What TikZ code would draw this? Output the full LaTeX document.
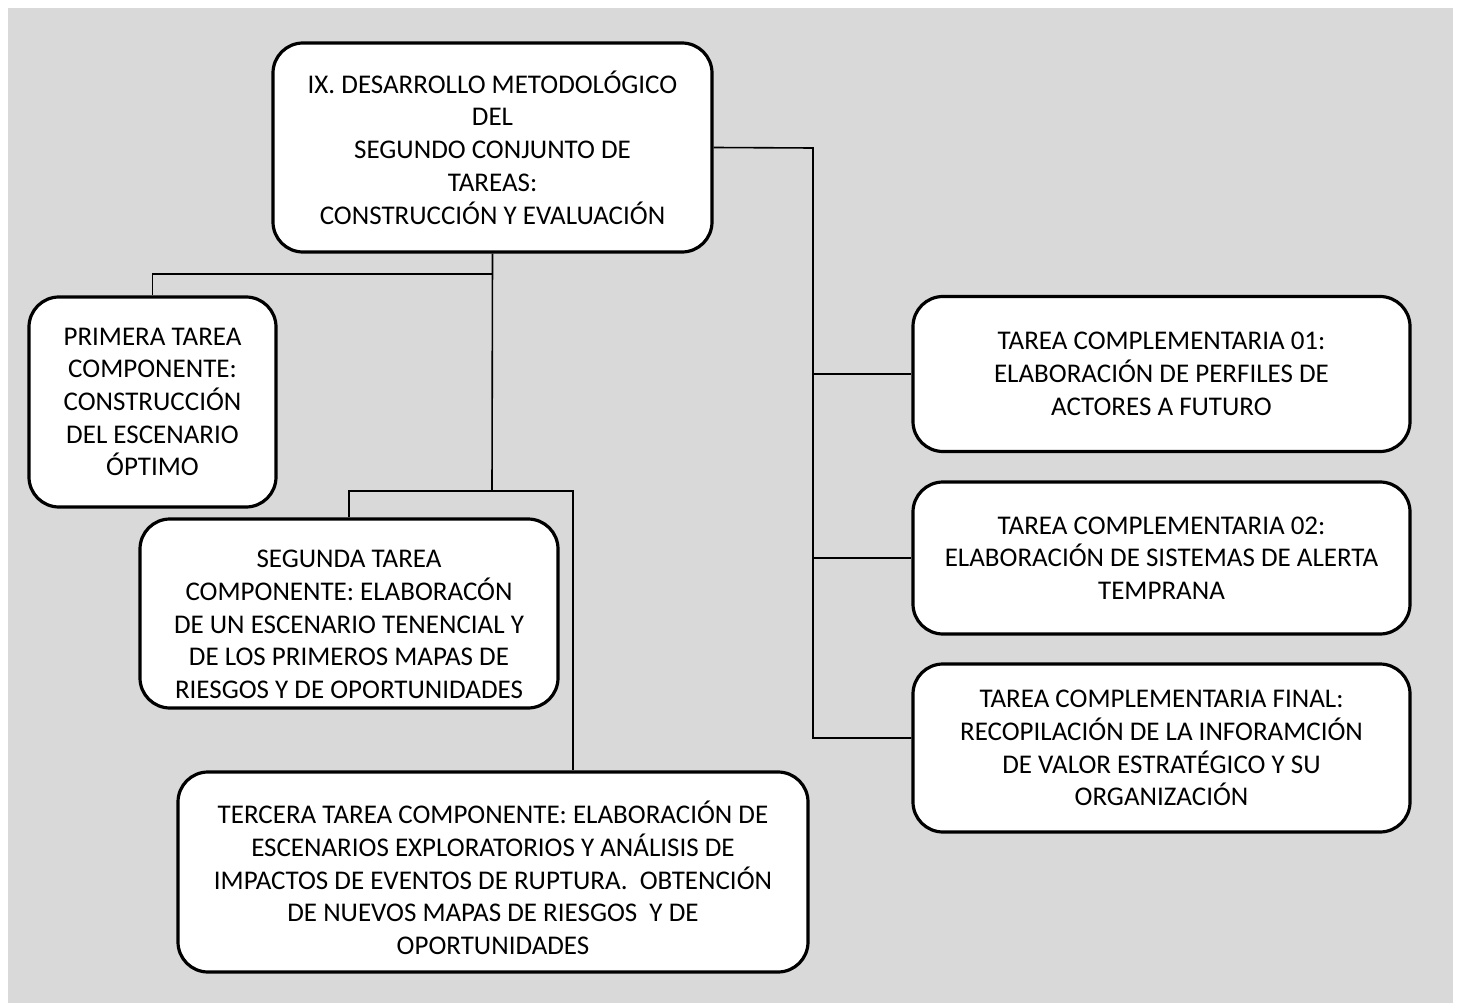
\documentclass[tikz,border=0pt]{standalone}
\usepackage{fontspec}
\setmainfont{Carlito}
\definecolor{bggray}{HTML}{D9D9D9}
\begin{document}
\begin{tikzpicture}[x=1pt,y=-1pt,
  box/.style={draw=black, line width=3.2pt, fill=white, rounded corners=30pt,
    align=center, inner sep=0pt, font=\fontsize{27}{32.7}\selectfont},
  txt/.style={align=center, inner sep=0pt, font=\fontsize{27}{32.7}\selectfont},
  link/.style={draw=black, line width=1.6pt}]
\useasboundingbox (0,0) rectangle (1460,1003);
\fill[bggray] (8,8) rectangle (1453,1003);

\node[box, minimum width=439pt, minimum height=209pt] (main) at (492.5,147.5)
  {IX. DESARROLLO METODOLÓGICO\\DEL\\SEGUNDO CONJUNTO DE\\TAREAS:\\CONSTRUCCIÓN Y EVALUACIÓN};
\node[box, minimum width=247pt, minimum height=210pt] (prim) at (152.5,402)
  {PRIMERA TAREA\\COMPONENTE:\\CONSTRUCCIÓN\\DEL ESCENARIO\\ÓPTIMO};
\node[box, minimum width=418pt, minimum height=189pt] (seg) at (349,613.5) {};
\node[txt] (segt) at ([yshift=-11pt]seg.center)
  {SEGUNDA TAREA\\COMPONENTE: ELABORACÓN\\DE UN ESCENARIO TENENCIAL Y\\DE LOS PRIMEROS MAPAS DE\\RIESGOS Y DE OPORTUNIDADES};
\node[box, minimum width=630pt, minimum height=200pt] (ter) at (493,872) {};
\node[txt] (tert) at ([yshift=-6pt]ter.center)
  {TERCERA TAREA COMPONENTE: ELABORACIÓN DE\\ESCENARIOS EXPLORATORIOS Y ANÁLISIS DE\\IMPACTOS DE EVENTOS DE RUPTURA.\ \ OBTENCIÓN\\DE NUEVOS MAPAS DE RIESGOS\ \ Y DE\\OPORTUNIDADES};
\node[box, minimum width=497pt, minimum height=155pt] (c1) at (1161.5,374)
  {TAREA COMPLEMENTARIA 01:\\ELABORACIÓN DE PERFILES DE\\ACTORES A FUTURO};
\node[box, minimum width=497pt, minimum height=152pt] (c2) at (1161.5,558)
  {TAREA COMPLEMENTARIA 02:\\ELABORACIÓN DE SISTEMAS DE ALERTA\\TEMPRANA};
\node[box, minimum width=497pt, minimum height=168pt] (fin) at (1161.5,748)
  {TAREA COMPLEMENTARIA FINAL:\\RECOPILACIÓN DE LA INFORAMCIÓN\\DE VALOR ESTRATÉGICO Y SU\\ORGANIZACIÓN};

\coordinate (j1) at (492,274);
\coordinate (j2) at (492,491);
\coordinate (t3) at (573,491);
\coordinate (r) at (813,148);

\draw[link] (main.south) -- (j2);
\draw[link] (j1) -| (prim.north);
\draw[link] (seg.north) |- (t3) -- (t3 |- ter.north);
\draw[link] (main.east) -- (r) |- ([yshift=10pt]fin.west);
\draw[link] (r |- c1.west) -- (c1.west);
\draw[link] (r |- c2.west) -- (c2.west);
\end{tikzpicture}
\end{document}
